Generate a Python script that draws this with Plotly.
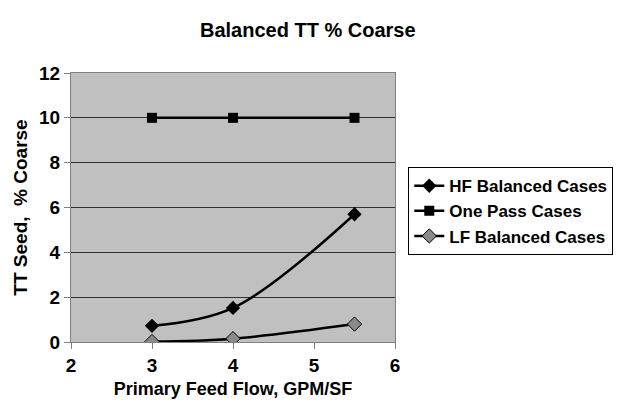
import plotly.graph_objects as go

# Данные
flow = [3, 4, 5.5]
hf_balanced = [0.72, 1.52, 5.7]
one_pass = [10, 10, 10]
lf_balanced = [0.02, 0.15, 0.8]

FONT = 'Liberation Sans, Arial, sans-serif'

fig = go.Figure()

fig.add_trace(go.Scatter(
    x=flow, y=hf_balanced, mode='lines+markers', name='<b>HF Balanced Cases</b>',
    line=dict(color='black', width=2.5, shape='spline'),
    marker=dict(symbol='diamond', size=11, color='black')
))
fig.add_trace(go.Scatter(
    x=flow, y=one_pass, mode='lines+markers', name='<b>One Pass Cases</b>',
    line=dict(color='black', width=2.5),
    marker=dict(symbol='square', size=10, color='black')
))
fig.add_trace(go.Scatter(
    x=flow, y=lf_balanced, mode='lines+markers', name='<b>LF Balanced Cases</b>',
    line=dict(color='black', width=2.5, shape='spline'),
    marker=dict(symbol='diamond', size=11, color='#8a8a8a',
                line=dict(color='black', width=1))
))

# страница html имеет отступ 8px, поэтому фигура чуть меньше окна
fig.update_layout(
    width=613, height=402,
    paper_bgcolor='white', plot_bgcolor='#c0c0c0',
    font=dict(family=FONT, color='black'),
    title=dict(text='<b>Balanced TT % Coarse</b>', x=0.489, xanchor='center',
               y=0.945, yanchor='middle', font=dict(size=20)),
    margin=dict(l=63, r=226, t=65, b=68),
    xaxis=dict(
        range=[2, 6], dtick=1, showgrid=False, zeroline=False, automargin=False,
        showline=True, linecolor='#808080', linewidth=1, mirror=True,
        ticks='outside', ticklen=6, tickcolor='#808080',
        tickfont=dict(size=19), tickprefix='<b>', ticksuffix='</b>',
        title=dict(text='<b>Primary Feed Flow, GPM/SF</b>', font=dict(size=18),
                   standoff=7)
    ),
    yaxis=dict(
        range=[0, 12], dtick=2, showgrid=True, gridcolor='#303030', gridwidth=1,
        zeroline=False, automargin=False,
        showline=True, linecolor='#808080', linewidth=1, mirror=True,
        ticks='outside', ticklen=6, tickcolor='#808080',
        tickfont=dict(size=19), tickprefix='<b>', ticksuffix='</b>',
        title=dict(text='<b>TT Seed,  % Coarse</b>', font=dict(size=19),
                   standoff=6)
    ),
    legend=dict(
        xref='container', yref='container',
        x=0.653, xanchor='left', y=0.604, yanchor='top',
        bordercolor='black', borderwidth=1, bgcolor='white',
        font=dict(size=17), tracegroupgap=0, itemwidth=30
    )
)

fig.write_html("out.html")
